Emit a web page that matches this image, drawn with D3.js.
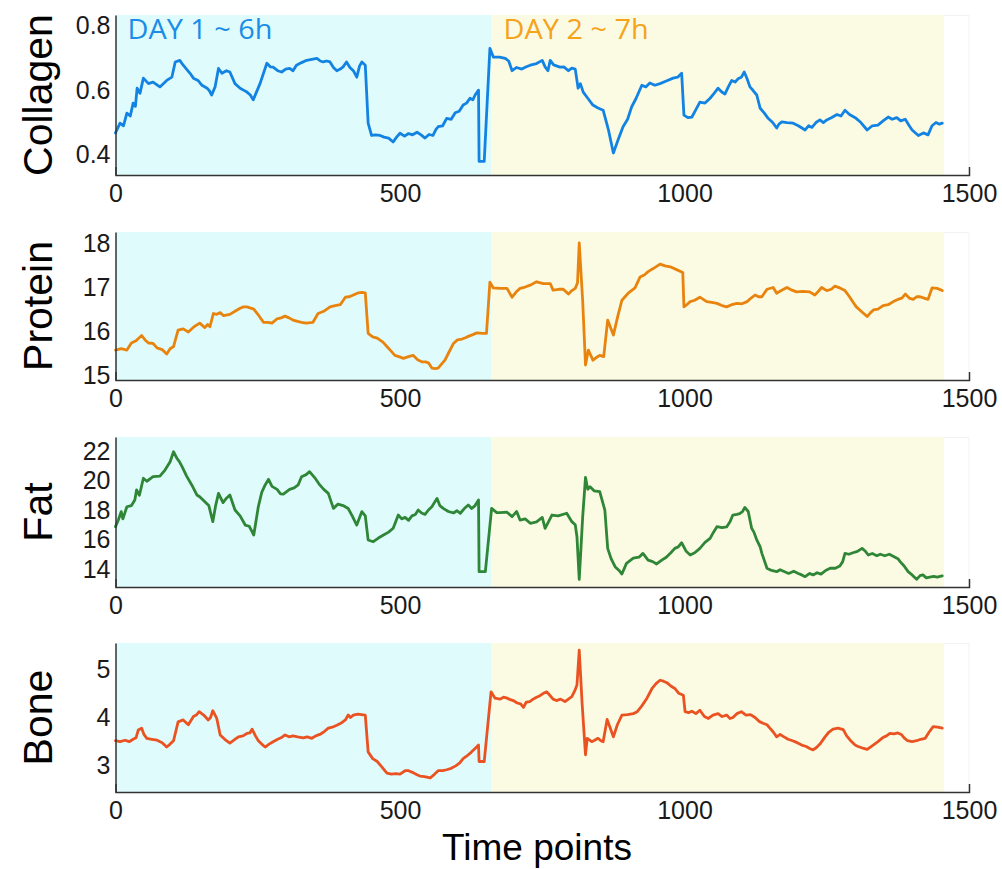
<!DOCTYPE html>
<html>
<head>
<meta charset="utf-8">
<script src="https://cdn.jsdelivr.net/npm/d3@7"></script>
<style>
  html, body { margin: 0; padding: 0; background: #ffffff; }
  svg { display: block; }
  .tick text { font-family: "Liberation Sans", Arial, Helvetica, sans-serif; fill: #1a1a1a; }
</style>
</head>
<body>
<svg id="chart" width="1002" height="869"></svg>
<script>
// ---------------- DATA ----------------
const xTicks = [0, 500, 1000, 1500];
const day1Range = [0, 661];
const day2Range = [661, 1456];
const dayLabels = ["DAY 1 ~ 6h", "DAY 2 ~ 7h"];
const seriesNames = ["Collagen", "Protein", "Fat", "Bone"];
const seriesColors = ["#1283e3", "#e8840e", "#2e8636", "#ea5222"];

const collagenTicks = [0.4, 0.6, 0.8];
const proteinTicks = [15, 16, 17, 18];
const fatTicks = [14, 16, 18, 20, 22];
const boneTicks = [3, 4, 5];

const collagenDomain = [0.338, 0.832];
const proteinDomain = [14.89, 18.25];
const fatDomain = [12.78, 22.95];
const boneDomain = [2.46, 5.54];

const collagen = [[0,0.468],[8,0.498],[14,0.49],[20,0.529],[26,0.52],[31,0.56],[35,0.55],[38,0.606],[43,0.59],[49,0.637],[58,0.62],[66,0.625],[78,0.61],[90,0.63],[99,0.64],[105,0.687],[113,0.692],[119,0.677],[131,0.652],[137,0.637],[145,0.63],[152,0.615],[161,0.606],[165,0.598],[169,0.585],[175,0.61],[181,0.667],[187,0.652],[195,0.66],[201,0.656],[210,0.62],[219,0.606],[225,0.6],[231,0.594],[237,0.585],[242,0.57],[254,0.62],[266,0.683],[272,0.672],[277,0.671],[285,0.66],[292,0.656],[299,0.665],[306,0.667],[312,0.66],[318,0.677],[327,0.685],[336,0.692],[345,0.695],[354,0.698],[360,0.69],[365,0.687],[371,0.69],[377,0.687],[383,0.67],[389,0.66],[395,0.665],[400,0.672],[406,0.687],[412,0.67],[418,0.66],[424,0.64],[429,0.675],[433,0.687],[439,0.677],[444,0.498],[450,0.46],[457,0.462],[465,0.46],[472,0.455],[480,0.452],[488,0.44],[494,0.455],[500,0.467],[508,0.458],[515,0.466],[522,0.462],[530,0.47],[537,0.462],[544,0.452],[551,0.463],[558,0.46],[563,0.478],[567,0.487],[575,0.49],[582,0.513],[590,0.51],[597,0.53],[604,0.535],[611,0.554],[617,0.56],[623,0.575],[628,0.57],[632,0.585],[638,0.6],[639,0.38],[648,0.38],[658,0.729],[664,0.702],[675,0.702],[685,0.698],[691,0.69],[697,0.66],[705,0.67],[714,0.665],[722,0.672],[729,0.677],[740,0.682],[750,0.692],[755,0.672],[760,0.66],[764,0.692],[770,0.678],[781,0.671],[788,0.672],[796,0.66],[802,0.668],[808,0.665],[813,0.606],[817,0.62],[822,0.594],[830,0.575],[839,0.554],[848,0.545],[857,0.538],[866,0.48],[875,0.406],[883,0.445],[892,0.487],[900,0.51],[907,0.548],[915,0.575],[925,0.615],[932,0.61],[939,0.622],[948,0.615],[957,0.62],[968,0.628],[980,0.637],[988,0.64],[995,0.652],[999,0.523],[1006,0.515],[1013,0.517],[1020,0.54],[1027,0.563],[1036,0.56],[1045,0.575],[1052,0.59],[1059,0.606],[1065,0.595],[1071,0.588],[1077,0.61],[1083,0.63],[1089,0.625],[1094,0.635],[1100,0.64],[1105,0.656],[1110,0.635],[1115,0.61],[1121,0.598],[1127,0.585],[1133,0.544],[1140,0.53],[1147,0.513],[1155,0.5],[1162,0.483],[1166,0.495],[1171,0.502],[1180,0.5],[1191,0.498],[1200,0.49],[1212,0.477],[1218,0.49],[1224,0.485],[1231,0.5],[1238,0.508],[1244,0.5],[1250,0.508],[1258,0.515],[1268,0.525],[1275,0.52],[1282,0.538],[1290,0.525],[1300,0.515],[1310,0.5],[1321,0.477],[1330,0.49],[1340,0.492],[1349,0.505],[1358,0.517],[1365,0.51],[1373,0.515],[1380,0.505],[1388,0.51],[1395,0.49],[1400,0.477],[1411,0.46],[1420,0.468],[1428,0.462],[1435,0.49],[1442,0.5],[1448,0.495],[1453,0.498]];

const protein = [[0,15.57],[10,15.6],[20,15.57],[28,15.73],[36,15.78],[46,15.9],[52,15.8],[58,15.73],[66,15.72],[73,15.62],[82,15.58],[90,15.48],[96,15.6],[102,15.65],[110,16.02],[119,16.05],[128,15.98],[138,16.1],[148,16.18],[157,16.08],[162,16.15],[166,16.1],[172,16.4],[178,16.38],[184,16.42],[190,16.35],[201,16.38],[210,16.45],[219,16.52],[225,16.55],[231,16.55],[243,16.5],[252,16.35],[260,16.2],[268,16.2],[275,16.18],[284,16.28],[291,16.3],[298,16.34],[305,16.3],[312,16.25],[320,16.22],[327,16.2],[335,16.18],[347,16.2],[356,16.4],[366,16.45],[377,16.55],[386,16.58],[395,16.6],[404,16.77],[411,16.78],[418,16.82],[427,16.87],[433,16.88],[439,16.87],[444,15.95],[452,15.87],[460,15.84],[470,15.75],[477,15.65],[484,15.55],[491,15.45],[498,15.42],[506,15.38],[515,15.42],[523,15.45],[531,15.35],[539,15.3],[545,15.3],[550,15.28],[556,15.16],[562,15.15],[567,15.16],[573,15.25],[579,15.34],[586,15.52],[594,15.72],[601,15.8],[609,15.82],[615,15.85],[620,15.88],[628,15.92],[635,15.96],[646,15.95],[652,15.95],[658,17.11],[664,16.98],[676,16.97],[688,16.97],[697,16.77],[705,16.9],[711,16.97],[720,17.0],[730,17.05],[740,17.12],[752,17.08],[764,17.08],[769,16.93],[779,16.95],[787,16.95],[796,16.84],[802,16.92],[808,16.97],[812,17.1],[815,18.0],[821,16.7],[826,15.23],[831,15.57],[839,15.34],[845,15.4],[851,15.45],[858,15.42],[865,16.25],[875,15.91],[883,16.35],[890,16.7],[901,16.86],[913,16.98],[922,17.23],[930,17.28],[936,17.35],[945,17.42],[957,17.52],[966,17.48],[975,17.46],[987,17.39],[997,17.33],[999,16.55],[1004,16.6],[1010,16.67],[1018,16.7],[1027,16.77],[1033,16.72],[1039,16.67],[1048,16.65],[1057,16.63],[1066,16.58],[1074,16.55],[1083,16.6],[1092,16.63],[1101,16.62],[1110,16.67],[1117,16.75],[1124,16.82],[1130,16.78],[1136,16.78],[1145,16.95],[1156,16.99],[1162,16.86],[1170,16.92],[1180,16.99],[1189,16.93],[1197,16.89],[1208,16.9],[1220,16.89],[1229,16.82],[1235,16.9],[1241,16.99],[1250,16.92],[1258,16.95],[1264,17.02],[1273,16.98],[1282,16.92],[1290,16.78],[1296,16.66],[1302,16.55],[1308,16.48],[1315,16.4],[1321,16.33],[1327,16.42],[1332,16.48],[1340,16.5],[1349,16.58],[1358,16.6],[1367,16.67],[1375,16.72],[1382,16.75],[1388,16.84],[1395,16.75],[1402,16.72],[1408,16.78],[1414,16.78],[1421,16.75],[1428,16.72],[1435,16.98],[1444,16.97],[1453,16.92]];

const fat = [[0,16.87],[5,17.32],[10,17.89],[13,17.4],[20,18.22],[28,18.3],[34,18.68],[37,19.36],[42,19.0],[49,20.15],[55,19.95],[66,20.26],[78,20.3],[87,20.71],[96,21.27],[102,21.95],[108,21.5],[112,21.3],[117,20.94],[125,20.3],[134,19.7],[143,19.02],[148,18.9],[157,18.56],[164,18.3],[171,17.21],[176,18.3],[181,19.13],[189,18.5],[195,18.8],[201,19.02],[210,18.0],[219,17.6],[228,16.98],[235,16.9],[240,16.53],[243,16.3],[251,18.22],[257,19.2],[263,19.7],[269,20.08],[275,19.6],[284,19.4],[290,19.1],[295,19.08],[306,19.4],[314,19.5],[321,19.7],[327,20.26],[335,20.4],[341,20.6],[350,20.2],[359,19.7],[366,19.4],[374,19.13],[383,18.11],[391,18.4],[400,18.3],[409,18.1],[416,17.6],[424,16.98],[430,17.6],[433,17.89],[439,17.6],[444,15.97],[453,15.85],[462,16.1],[471,16.3],[480,16.5],[488,16.76],[497,17.66],[503,17.4],[509,17.5],[515,17.3],[521,17.6],[527,17.7],[532,18.0],[538,17.8],[544,17.7],[550,18.0],[556,18.22],[565,18.79],[570,18.3],[576,18.11],[585,17.9],[594,17.8],[600,17.95],[606,17.78],[613,18.1],[620,18.34],[626,18.1],[632,18.3],[638,18.68],[639,13.82],[650,13.82],[661,18.11],[670,17.82],[676,17.82],[688,17.85],[697,17.55],[705,17.9],[711,17.32],[720,17.4],[729,17.1],[740,17.2],[750,17.5],[755,16.76],[767,17.66],[778,17.6],[793,17.78],[802,17.21],[808,17.0],[811,16.19],[815,13.3],[821,17.5],[826,20.21],[830,19.4],[834,19.58],[841,19.3],[851,19.24],[860,18.0],[865,15.4],[871,14.7],[878,14.16],[885,13.9],[890,13.66],[898,14.38],[910,14.73],[920,14.8],[927,15.06],[936,14.6],[944,14.5],[951,14.34],[960,14.6],[968,14.8],[976,15.1],[983,15.4],[989,15.5],[995,15.78],[1003,15.2],[1010,14.95],[1018,15.1],[1027,15.4],[1036,15.8],[1045,16.08],[1051,16.5],[1057,16.87],[1066,16.8],[1074,16.85],[1080,17.2],[1085,17.66],[1092,17.7],[1097,17.75],[1102,17.9],[1106,18.18],[1112,17.9],[1118,16.76],[1122,16.5],[1127,15.97],[1133,15.5],[1136,15.06],[1145,14.05],[1153,13.9],[1162,13.82],[1168,13.95],[1174,13.85],[1183,13.7],[1192,13.85],[1200,13.7],[1206,13.6],[1212,13.48],[1220,13.7],[1226,13.6],[1233,13.75],[1240,13.65],[1248,13.9],[1256,14.05],[1265,14.05],[1273,14.2],[1278,14.5],[1282,15.06],[1289,15.0],[1296,15.1],[1304,15.2],[1312,15.4],[1318,15.2],[1323,14.95],[1330,15.05],[1338,14.9],[1344,15.0],[1352,14.9],[1360,15.0],[1370,14.8],[1375,14.7],[1379,14.5],[1386,14.2],[1393,13.82],[1400,13.6],[1408,13.3],[1414,13.55],[1419,13.6],[1425,13.4],[1431,13.45],[1438,13.5],[1444,13.45],[1453,13.53]];

const bone = [[0,3.52],[8,3.5],[17,3.53],[24,3.5],[31,3.55],[36,3.58],[40,3.74],[46,3.78],[50,3.65],[55,3.57],[64,3.55],[73,3.53],[82,3.48],[90,3.39],[96,3.45],[102,3.52],[110,3.91],[119,3.95],[128,3.85],[137,4.02],[142,4.05],[147,4.12],[155,4.05],[163,3.95],[167,4.0],[171,4.14],[178,3.98],[184,3.64],[192,3.55],[201,3.47],[208,3.53],[216,3.6],[224,3.62],[231,3.67],[236,3.68],[240,3.76],[246,3.62],[251,3.52],[257,3.45],[263,3.39],[270,3.45],[277,3.5],[285,3.55],[291,3.58],[298,3.64],[305,3.6],[312,3.62],[320,3.6],[330,3.58],[337,3.6],[345,3.57],[352,3.62],[359,3.65],[366,3.7],[374,3.78],[381,3.8],[389,3.84],[396,3.88],[404,3.95],[409,4.05],[413,4.0],[418,4.05],[426,4.07],[432,4.06],[439,4.05],[444,3.29],[452,3.15],[460,3.09],[468,2.98],[477,2.85],[485,2.83],[492,2.84],[500,2.83],[509,2.9],[515,2.9],[523,2.86],[529,2.82],[535,2.79],[543,2.78],[553,2.75],[560,2.82],[567,2.9],[575,2.9],[582,2.92],[590,2.95],[598,3.0],[605,3.06],[611,3.15],[617,3.2],[625,3.28],[632,3.36],[638,3.43],[639,3.09],[648,3.09],[660,4.53],[667,4.4],[676,4.38],[682,4.42],[688,4.4],[694,4.37],[699,4.35],[706,4.3],[712,4.28],[717,4.21],[722,4.32],[728,4.33],[734,4.38],[740,4.42],[746,4.45],[752,4.5],[758,4.53],[764,4.45],[769,4.38],[775,4.35],[782,4.38],[790,4.33],[796,4.38],[802,4.43],[807,4.55],[811,4.67],[815,5.39],[820,4.3],[826,3.23],[829,3.57],[837,3.5],[842,3.53],[848,3.57],[853,3.52],[857,3.5],[864,3.96],[869,3.8],[875,3.6],[882,3.85],[890,4.05],[900,4.06],[910,4.08],[917,4.12],[925,4.24],[934,4.4],[943,4.6],[950,4.7],[957,4.77],[963,4.75],[969,4.72],[976,4.65],[983,4.6],[990,4.5],[998,4.46],[1001,4.12],[1007,4.1],[1013,4.13],[1020,4.08],[1027,4.15],[1035,4.02],[1042,3.98],[1050,4.05],[1059,4.08],[1066,4.02],[1074,4.05],[1080,3.98],[1085,4.0],[1092,4.08],[1100,4.12],[1108,4.05],[1116,4.06],[1124,4.0],[1131,3.92],[1138,3.88],[1145,3.85],[1150,3.78],[1156,3.7],[1162,3.6],[1168,3.65],[1175,3.6],[1182,3.55],[1190,3.52],[1198,3.48],[1206,3.43],[1214,3.4],[1220,3.36],[1226,3.33],[1232,3.38],[1238,3.45],[1247,3.6],[1254,3.7],[1261,3.76],[1270,3.78],[1279,3.75],[1285,3.62],[1292,3.52],[1298,3.45],[1303,3.41],[1310,3.38],[1315,3.36],[1321,3.34],[1328,3.4],[1334,3.45],[1340,3.5],[1348,3.58],[1355,3.62],[1361,3.67],[1368,3.66],[1375,3.68],[1381,3.65],[1386,3.58],[1392,3.52],[1400,3.5],[1408,3.52],[1415,3.55],[1423,3.57],[1430,3.7],[1437,3.81],[1445,3.8],[1453,3.78]];

// ---------------- LAYOUT ----------------
const W = 1002, H = 869;
const xLeft = 115.5, xRight = 969;
const panelTops = [15, 232, 437, 643];
const panelBottoms = [175, 380, 587, 792];

const panels = [
  { name: seriesNames[0], data: collagen, color: seriesColors[0], domain: collagenDomain, ticks: collagenTicks, fmt: d3.format(".1f") },
  { name: seriesNames[1], data: protein,  color: seriesColors[1], domain: proteinDomain,  ticks: proteinTicks,  fmt: d3.format("d") },
  { name: seriesNames[2], data: fat,      color: seriesColors[2], domain: fatDomain,      ticks: fatTicks,      fmt: d3.format("d") },
  { name: seriesNames[3], data: bone,     color: seriesColors[3], domain: boneDomain,     ticks: boneTicks,     fmt: d3.format("d") }
];

const svg = d3.select("#chart");
const x = d3.scaleLinear().domain([0, 1500]).range([xLeft, xRight]);

panels.forEach((p, i) => {
  const top = panelTops[i], bottom = panelBottoms[i];
  const y = d3.scaleLinear().domain(p.domain).range([bottom, top]);
  const g = svg.append("g");

  // faint box (MATLAB style)
  g.append("path")
    .attr("d", `M${x(day2Range[1])},${top + 0.5}H${xRight}V${bottom}`)
    .attr("fill", "none").attr("stroke", "#f2f2f2").attr("stroke-width", 1);

  // day backgrounds
  g.append("rect")
    .attr("x", x(day1Range[0])).attr("y", top)
    .attr("width", x(day1Range[1]) - x(day1Range[0])).attr("height", bottom - top)
    .attr("fill", "#e0fbfb");
  g.append("rect")
    .attr("x", x(day2Range[0])).attr("y", top)
    .attr("width", x(day2Range[1]) - x(day2Range[0])).attr("height", bottom - top)
    .attr("fill", "#fbfbe3");

  // line
  const line = d3.line().x(d => x(d[0])).y(d => y(d[1]));
  g.append("path").datum(p.data)
    .attr("d", line)
    .attr("fill", "none")
    .attr("stroke", p.color)
    .attr("stroke-width", 2.8)
    .attr("stroke-linejoin", "round")
    .attr("stroke-linecap", "round");

  // bottom axis
  const xa = g.append("g").attr("transform", `translate(0,${bottom})`)
    .call(d3.axisBottom(x).tickValues(xTicks).tickSize(0).tickSizeOuter(-8).tickPadding(9).tickFormat(d3.format("d")));
  xa.select(".domain").attr("stroke", "#333").attr("stroke-width", 1.5);
  xa.selectAll(".tick text").attr("font-size", 25);

  // left axis
  const ya = g.append("g").attr("transform", `translate(${xLeft},0)`)
    .call(d3.axisLeft(y).tickValues(p.ticks).tickSize(0).tickSizeOuter(0).tickPadding(5).tickFormat(p.fmt));
  ya.select(".domain").attr("stroke", "#333").attr("stroke-width", 1.5);
  ya.selectAll(".tick text").attr("font-size", 25);

  // y title
  svg.append("text")
    .attr("transform", `translate(52,${(top + bottom) / 2}) rotate(-90)`)
    .attr("text-anchor", "middle")
    .attr("font-family", "Liberation Sans, Arial, Helvetica, sans-serif")
    .attr("font-size", 41)
    .attr("fill", "#000")
    .text(p.name);
});

// day labels
svg.append("text")
  .attr("x", x(day1Range[0]) + 12).attr("y", 39)
  .attr("font-family", "Open Sans, Lato, sans-serif")
  .attr("font-size", 27)
  .attr("textLength", 145).attr("lengthAdjust", "spacingAndGlyphs")
  .attr("fill", "#1a8de8")
  .text(dayLabels[0]);
svg.append("text")
  .attr("x", x(day2Range[0]) + 12).attr("y", 39)
  .attr("font-family", "Open Sans, Lato, sans-serif")
  .attr("font-size", 27)
  .attr("textLength", 145).attr("lengthAdjust", "spacingAndGlyphs")
  .attr("fill", "#f5a31a")
  .text(dayLabels[1]);

// x title
svg.append("text")
  .attr("x", 537).attr("y", 860)
  .attr("text-anchor", "middle")
  .attr("font-family", "Liberation Sans, Arial, Helvetica, sans-serif")
  .attr("font-size", 37)
  .attr("fill", "#000")
  .text("Time points");
</script>
</body>
</html>
